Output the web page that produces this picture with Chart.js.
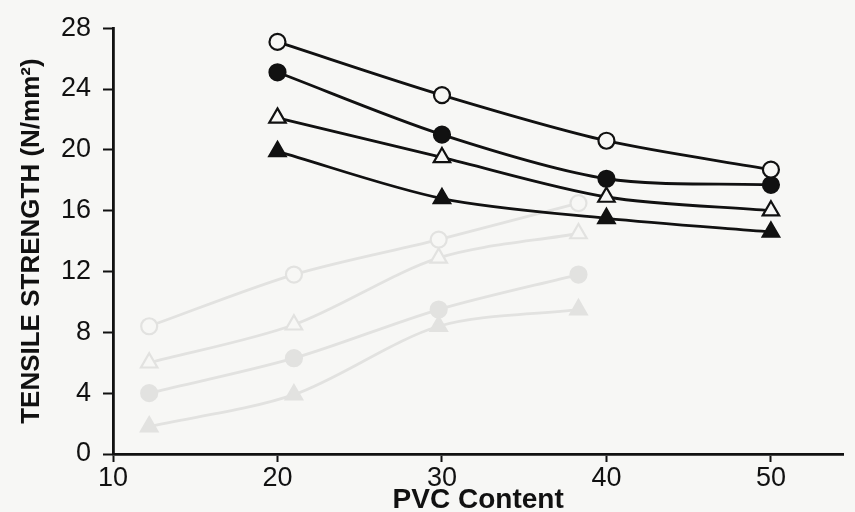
<!DOCTYPE html>
<html>
<head>
<meta charset="utf-8">
<script src="https://cdn.jsdelivr.net/npm/chart.js@4.4.1/dist/chart.umd.min.js"></script>
<style>
  html, body { margin: 0; padding: 0; background: #f7f7f5; }
  #wrap { width: 855px; height: 512px; position: relative; }
</style>
</head>
<body>
<div id="wrap"><canvas id="chart" width="855" height="512"></canvas></div>
<script>
  // PVC content (x) and tensile strength (N/mm2)
  const pvcContent = [20, 30, 40, 50];
  const openCircle = [27.1, 23.6, 20.6, 18.7];
  const filledCircle = [25.1, 21.0, 18.1, 17.7];
  const openTriangle = [22.1, 19.5, 16.9, 16.0];
  const filledTriangle = [19.9, 16.8, 15.5, 14.6];

  // faint bleed-through curves from the reverse page
  const ghostX = [12.2, 21, 29.8, 38.3];
  const ghostOpenCircle = [8.4, 11.8, 14.1, 16.5];
  const ghostOpenTriangle = [6.0, 8.5, 12.9, 14.5];
  const ghostFilledCircle = [4.0, 6.3, 9.5, 11.8];
  const ghostFilledTriangle = [1.8, 3.9, 8.4, 9.5];

  const xTicks = [10, 20, 30, 40, 50];
  const yTicks = [0, 4, 8, 12, 16, 20, 24, 28];

  const BG = '#f7f7f5';
  const GHOST = '#e2e2e0';

  function pts(xs, ys) {
    return xs.map((x, i) => ({ x, y: ys[i] }));
  }

  function makeSet(xs, values, style, filled, color) {
    return {
      data: pts(xs, values),
      borderColor: color,
      backgroundColor: filled ? color : BG,
      pointBorderColor: color,
      pointBackgroundColor: filled ? color : BG,
      pointStyle: style,
      pointRadius: style === 'triangle' ? 9.5 : 8,
      pointBorderWidth: 2.2,
      borderWidth: 2.8,
      tension: 0.3,
      fill: false
    };
  }

  const font = 'Liberation Sans, Arial, sans-serif';

  new Chart(document.getElementById('chart'), {
    type: 'line',
    data: {
      datasets: [
        makeSet(pvcContent, openCircle, 'circle', false, '#111'),
        makeSet(pvcContent, filledCircle, 'circle', true, '#111'),
        makeSet(pvcContent, openTriangle, 'triangle', false, '#111'),
        makeSet(pvcContent, filledTriangle, 'triangle', true, '#111'),
        makeSet(ghostX, ghostOpenCircle, 'circle', false, GHOST),
        makeSet(ghostX, ghostOpenTriangle, 'triangle', false, GHOST),
        makeSet(ghostX, ghostFilledCircle, 'circle', true, GHOST),
        makeSet(ghostX, ghostFilledTriangle, 'triangle', true, GHOST)
      ]
    },
    options: {
      responsive: false,
      animation: false,
      layout: { padding: { top: 23, right: 0, left: 16, bottom: 0 } },
      plugins: {
        legend: { display: false },
        tooltip: { enabled: false }
      },
      scales: {
        x: {
          type: 'linear',
          min: 10,
          max: 54.4,
          afterBuildTicks: s => { s.ticks = xTicks.map(v => ({ value: v })); },
          afterFit: s => { s.height = 58; },
          ticks: { color: '#111', font: { family: font, size: 27 }, padding: 0 },
          grid: { drawOnChartArea: false, tickLength: 8, tickColor: '#111', tickWidth: 2 },
          border: { color: '#111', width: 2.8 },
          title: { display: true, text: 'PVC Content', color: '#111', font: { family: font, size: 28, weight: 'bold', lineHeight: 1 }, padding: { top: 0, bottom: -2 } }
        },
        y: {
          min: 0,
          max: 28,
          afterBuildTicks: s => { s.ticks = yTicks.map(v => ({ value: v })); },
          afterFit: s => { s.width = 97; },
          ticks: { color: '#111', font: { family: font, size: 27 }, padding: 12 },
          grid: { drawOnChartArea: false, tickLength: 10, tickColor: '#111', tickWidth: 2 },
          border: { color: '#111', width: 2.8 },
          title: { display: true, text: 'TENSILE STRENGTH (N/mm²)', color: '#111', font: { family: font, size: 26, weight: 'bold' }, padding: 0 }
        }
      }
    }
  });
</script>
</body>
</html>
